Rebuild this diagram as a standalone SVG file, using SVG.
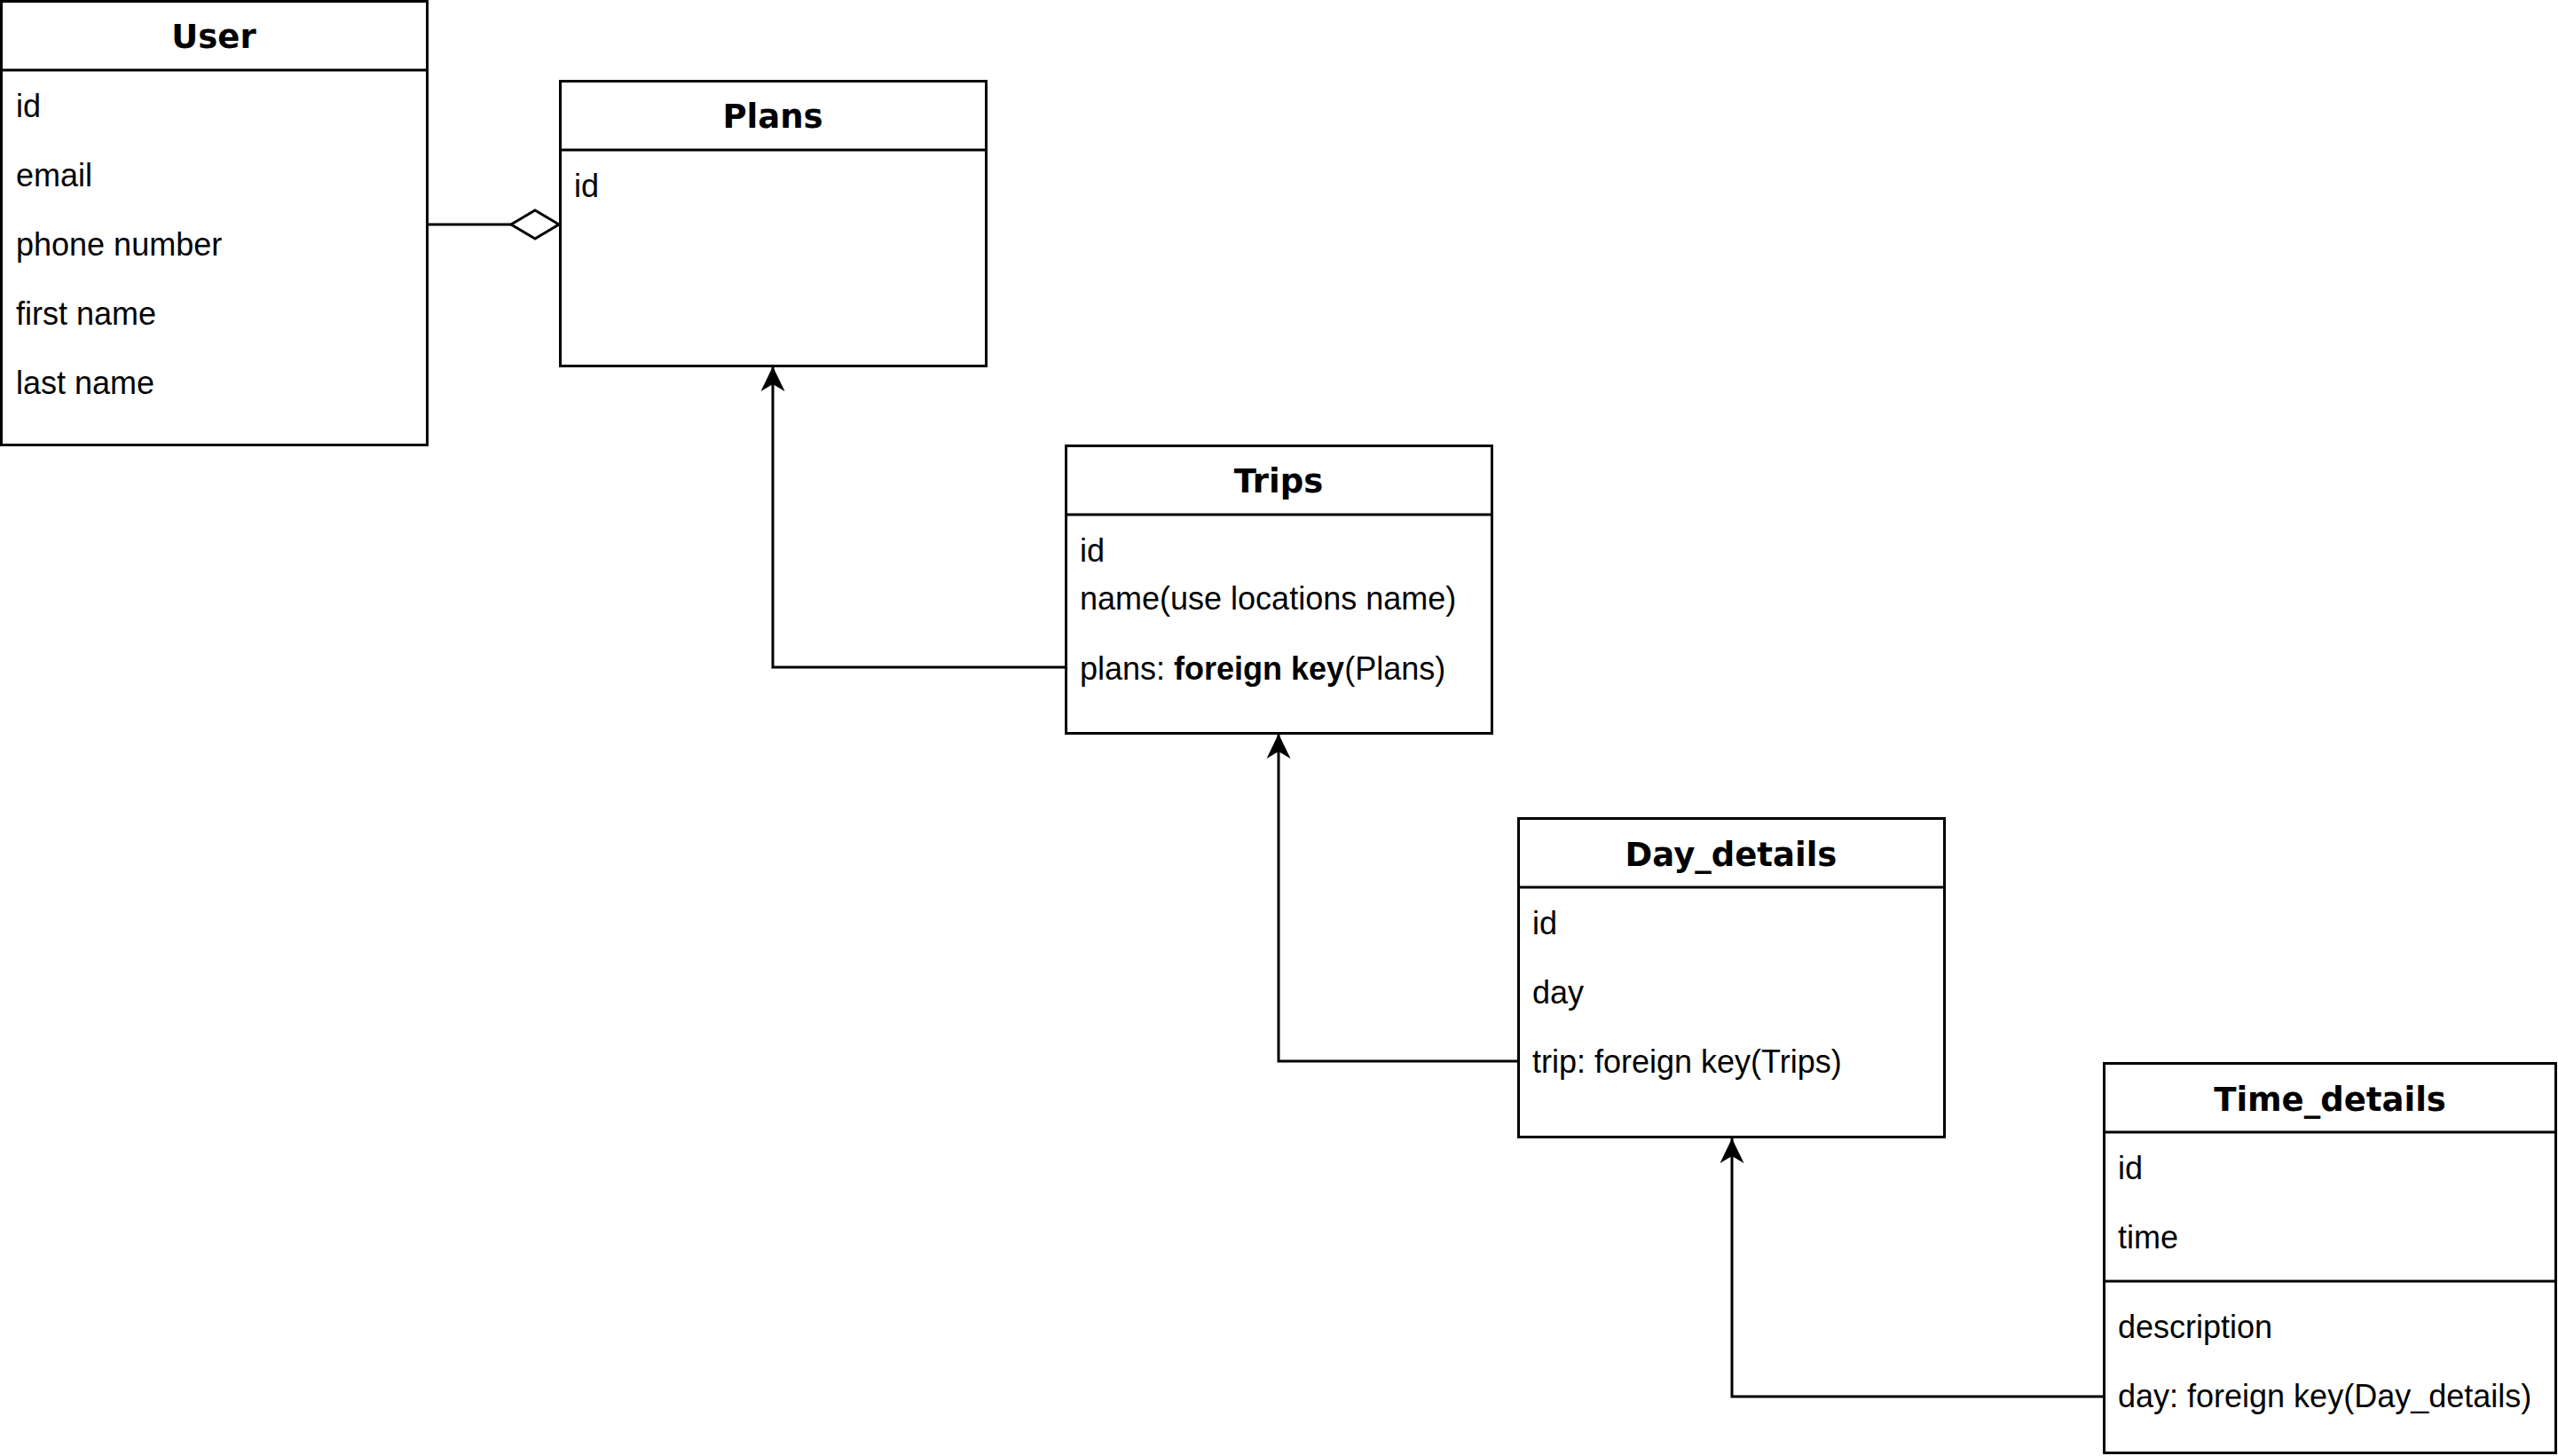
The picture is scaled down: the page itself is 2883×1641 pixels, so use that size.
<svg xmlns="http://www.w3.org/2000/svg" width="2883" height="1641" viewBox="0 0 2883 1641">
  <style>
    .box { fill: #ffffff; stroke: #000000; stroke-width: 3; }
    .sep { fill: none; stroke: #000000; stroke-width: 3; }
    .title { font-family: "DejaVu Sans", Verdana, sans-serif; font-weight: bold; font-size: 37px; text-anchor: middle; fill: #000000; }
    .attr { font-family: "Liberation Sans", Arial, Helvetica, sans-serif; font-size: 36px; fill: #000000; }
    .b { font-weight: bold; }
    .edge { fill: none; stroke: #000000; stroke-width: 3; }
  </style>
  <defs>
    <marker id="arrow" markerUnits="userSpaceOnUse" viewBox="0 0 28 28" refX="28" refY="14" markerWidth="28" markerHeight="28" orient="auto">
      <path d="M28,14 L0,0.5 L8,14 L0,27.5 Z" fill="#000000" stroke="none"/>
    </marker>
    <marker id="diamond" markerUnits="userSpaceOnUse" viewBox="-2 -2 58 36" refX="54" refY="16" markerWidth="58" markerHeight="36" orient="auto">
      <path d="M0,16 L27,0 L54,16 L27,32 Z" fill="#ffffff" stroke="#000000" stroke-width="3"/>
    </marker>
  </defs>

  <rect width="2883" height="1641" fill="#ffffff"/>

  <!-- connectors -->
  <g id="connectors">
    <path class="edge" d="M482,253 L630,253" marker-end="url(#diamond)"/>
    <path class="edge" d="M1201,752 L871,752 L871,413" marker-end="url(#arrow)"/>
    <path class="edge" d="M1712,1196 L1441,1196 L1441,827" marker-end="url(#arrow)"/>
    <path class="edge" d="M2372,1574 L1952,1574 L1952,1283" marker-end="url(#arrow)"/>
  </g>

  <!-- User -->
  <g id="user">
    <rect class="box" x="1.5" y="1.5" width="480" height="500"/>
    <line class="sep" x1="1.5" y1="79" x2="481.5" y2="79"/>
    <text class="title" x="241" y="54">User</text>
    <text class="attr" x="18" y="132">id</text>
    <text class="attr" x="18" y="210">email</text>
    <text class="attr" x="18" y="288">phone number</text>
    <text class="attr" x="18" y="366">first name</text>
    <text class="attr" x="18" y="444">last name</text>
  </g>

  <!-- Plans -->
  <g id="plans">
    <rect class="box" x="631.5" y="91.5" width="480" height="321"/>
    <line class="sep" x1="631.5" y1="169" x2="1111.5" y2="169"/>
    <text class="title" x="871" y="144">Plans</text>
    <text class="attr" x="647" y="222">id</text>
  </g>

  <!-- Trips -->
  <g id="trips">
    <rect class="box" x="1201.5" y="502.5" width="480" height="324"/>
    <line class="sep" x1="1201.5" y1="580" x2="1681.5" y2="580"/>
    <text class="title" x="1441" y="555">Trips</text>
    <text class="attr" x="1217" y="633">id</text>
    <text class="attr" x="1217" y="687">name(use locations name)</text>
    <text class="attr" x="1217" y="766">plans: <tspan class="b">foreign key</tspan>(Plans)</text>
  </g>

  <!-- Day_details -->
  <g id="day_details">
    <rect class="box" x="1711.5" y="922.5" width="480" height="359"/>
    <line class="sep" x1="1711.5" y1="1000" x2="2191.5" y2="1000"/>
    <text class="title" x="1951" y="976">Day_details</text>
    <text class="attr" x="1727" y="1053">id</text>
    <text class="attr" x="1727" y="1131">day</text>
    <text class="attr" x="1727" y="1209">trip: foreign key(Trips)</text>
  </g>

  <!-- Time_details -->
  <g id="time_details">
    <rect class="box" x="2371.5" y="1198.5" width="509" height="439"/>
    <line class="sep" x1="2371.5" y1="1276" x2="2880.5" y2="1276"/>
    <line class="sep" x1="2371.5" y1="1444" x2="2880.5" y2="1444"/>
    <text class="title" x="2626" y="1252">Time_details</text>
    <text class="attr" x="2387" y="1329">id</text>
    <text class="attr" x="2387" y="1407">time</text>
    <text class="attr" x="2387" y="1508">description</text>
    <text class="attr" x="2387" y="1586">day: foreign key(Day_details)</text>
  </g>
</svg>
